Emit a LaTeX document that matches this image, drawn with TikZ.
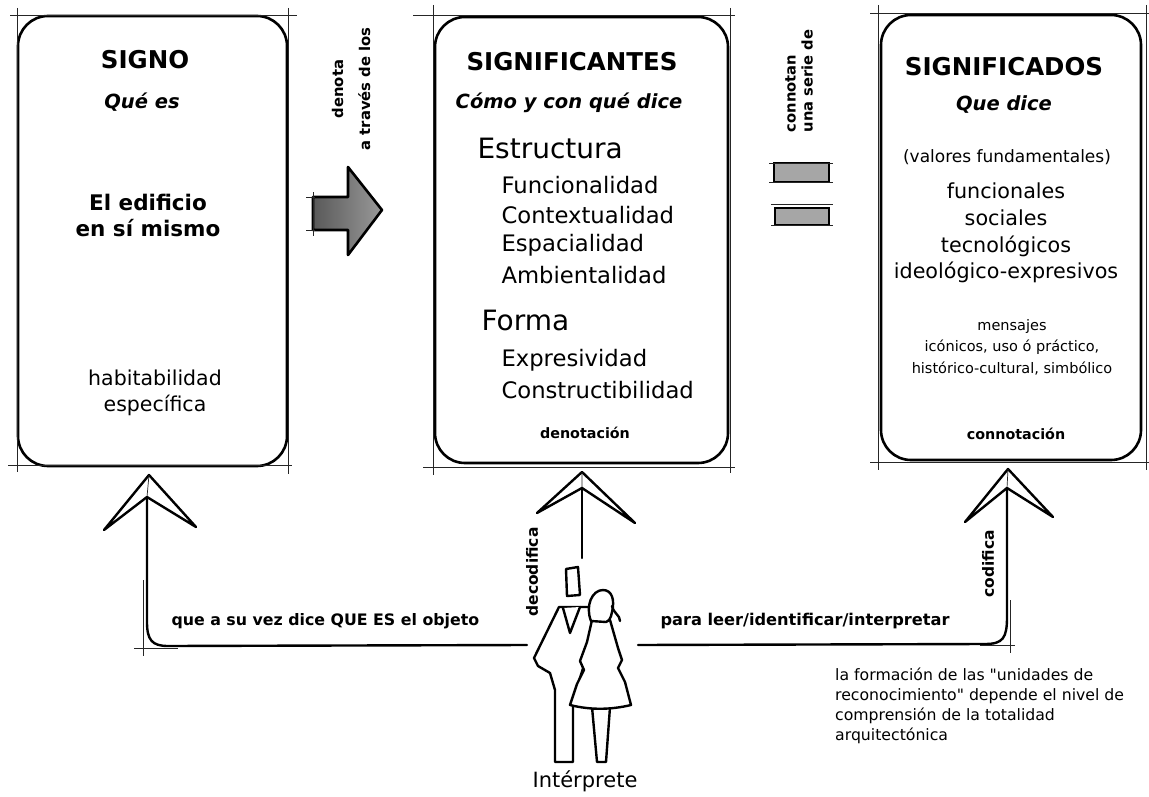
\documentclass[tikz,border=0pt]{standalone}
\usepackage{fontspec}
\setmainfont{DejaVu Sans}
% same face without the TeX ligature mapping, so that " stays a straight quote
\newfontfamily\notefont{DejaVu Sans}[Ligatures=ResetAll]
\begin{document}
\begin{tikzpicture}[x=1pt,y=-1pt,
  guide/.style={line width=0.7pt, black!85},
  frame/.style={draw, line width=2.6pt, rounded corners=30pt, inner sep=0pt},
  link/.style={line width=2.4pt, line cap=round, line join=round},
  chevron/.style={line width=2.4pt, line join=round, fill=white},
  fig/.style={line width=2.4pt, line join=round, line cap=round, fill=white},
  title/.style={font=\bfseries\fontsize{24.5}{28}\selectfont},
  subtitle/.style={font=\bfseries\itshape\fontsize{19.5}{23}\selectfont},
  item/.style={anchor=west, font=\fontsize{22.7}{26}\selectfont},
  group/.style={anchor=west, font=\fontsize{28}{32}\selectfont},
  valor/.style={font=\fontsize{20.7}{26.7}\selectfont, align=center},
  small/.style={font=\fontsize{14.5}{21.5}\selectfont, align=center},
  foot/.style={font=\bfseries\fontsize{14.3}{17}\selectfont},
  side/.style={font=\bfseries\fontsize{15}{17}\selectfont, rotate=90},
  bar/.style={line width=2.6pt, fill=black!35}
]
\useasboundingbox (0,0) rectangle (1149,797);

% ---------- three framed panels ----------
\node[frame, minimum width=269pt, minimum height=450pt] (signo) at (152.5,241) {};
\node[frame, minimum width=293pt, minimum height=446pt] (significantes) at (581.5,240) {};
\node[frame, minimum width=260pt, minimum height=445pt] (significados) at (1011,237.5) {};

% construction lines around the panels
\draw[guide] (10,15) -- (297,15) (8,465) -- (292,465) (17,8) -- (17,472) (288,8) -- (288,474);
\draw[guide] (413,15) -- (735,15) (423,467) -- (735,467) (433,5) -- (433,475) (730,8) -- (730,473);
\draw[guide] (870,13) -- (1149,13) (870,462) -- (1149,462) (878,5) -- (878,470) (1146,5) -- (1146,470);

% ---------- panel 1 ----------
\node[title] (t1) at (145,60) {SIGNO};
\node[subtitle] (s1) at (142,102) {Qué es};
\node[font=\bfseries\fontsize{21.5}{26}\selectfont, align=center] (edif) at (148,215) {El edificio\\en sí mismo};
\node[font=\fontsize{20.5}{26}\selectfont, align=center] (habit) at (155,393) {habitabilidad\\específica};

% ---------- panel 2 ----------
\node[title] (t2) at (572,62) {SIGNIFICANTES};
\node[subtitle] (s2) at (569,103) {Cómo y con qué dice};
\node[group] (estr) at (474,148) {Estructura};
\node[item] (i1) at (498,185) {Funcionalidad};
\node[item] (i2) at (498,215) {Contextualidad};
\node[item] (i3) at (498,245) {Espacialidad};
\node[item] (i4) at (498,275) {Ambientalidad};
\node[group] (forma) at (478,320) {Forma};
\node[item] (i5) at (498,360) {Expresividad};
\node[item] (i6) at (498,390) {Constructibilidad};
\node[foot] (den) at (585,433) {denotación};

% ---------- panel 3 ----------
\node[title] (t3) at (1004,67) {SIGNIFICADOS};
\node[subtitle] (s3) at (1004,105) {Que dice};
\node[font=\fontsize{17}{20}\selectfont] (valf) at (1007,157) {(valores fundamentales)};
\node[valor] (vals) at (1006,233) {funcionales\\sociales\\tecnológicos\\ideológico-expresivos};
\node[small] (mens) at (1012,347) {mensajes\\icónicos, uso ó práctico,\\histórico-cultural, simbólico};
\node[foot] (con) at (1016,434) {connotación};

% ---------- block arrow between panel 1 and 2 ----------
\draw[line width=2.6pt, line join=round, left color=black!65, right color=black!40]
  (313,197) -- (348,197) -- (348,167) -- (382,210) -- (348,255) -- (348,230) -- (313,230) -- cycle;
\draw[guide] (306,197) -- (315,197) (306,230) -- (315,230) (313,192) -- (313,236);
\node[side, align=center, font=\bfseries\fontsize{14.8}{27}\selectfont] (denota) at (351,89) {denota\\a través de los};

% ---------- equals sign between panel 2 and 3 ----------
\draw[bar] (774,163) rectangle (829,182);
\draw[bar] (775,208) rectangle (829,225);
\draw[guide] (769,163) -- (833,163) (769,182) -- (833,182) (771,204) -- (833,204)
  (771,225) -- (833,225);
\node[side, align=left, font=\bfseries\fontsize{14.7}{17}\selectfont] (connotan) at (799,81) {connotan\\una serie de};

% ---------- interpreter figures ----------
\coordinate (manL) at (527,645);
\coordinate (womanR) at (638,645);
\coordinate (headTop) at (582,558);
% man
\draw[fig] (559,607) -- (534,658) -- (538,666) -- (550,673) -- (555,690) -- (555,762)
  -- (573,762) -- (573,700) -- (592,640) -- (594,607) -- cycle;
\draw[fig] (563,608) -- (570,633) -- (580,607);
\draw[fig] (566,569) -- (578,567) -- (580,595) -- (567,596) -- cycle;
% woman
\draw[fig] (592,707) -- (597,762) -- (606,762) -- (610,707);
\draw[fig] (592,620) -- (610,620) -- (618,648) -- (622,660) -- (618,668) -- (625,682)
  -- (631,705) .. controls (610,710) and (590,710) .. (570,705) -- (577,684) -- (584,670)
  -- (580,661) -- (587,642) -- cycle;
\draw[fig] (591,621) .. controls (585,606) and (592,590) .. (603,590)
  .. controls (612,590) and (615,600) .. (612,612) .. controls (611,618) and (609,621) .. (606,622) -- cycle;
\draw[fig, fill=none] (612,606) .. controls (614,614) and (620,615) .. (620,621);
\node[font=\fontsize{21}{24}\selectfont] (interp) at (585,781) {Intérprete};

% ---------- connectors to the panels ----------
\coordinate (tipA) at (149,475);
\coordinate (tipB) at (582,472);
\coordinate (tipC) at (1008,469);
\coordinate (inA) at (147,497);
\coordinate (inB) at (582,488);
\coordinate (inC) at (1007,488);

\draw[chevron, shift={(tipA)}] (-45,55) -- (0,0) -- (47,52) -- (-2,22) -- cycle;
\draw[chevron, shift={(tipB)}] (-45,41) -- (0,0) -- (53,51) -- (0,16) -- cycle;
\draw[chevron, shift={(tipC)}] (-43,53) -- (0,0) -- (45,48) -- (-1,19) -- cycle;
\draw[guide] (tipA) -- (inA) (tipB) -- (inB) (tipC) -- (inC);

\draw[link] (manL) -- (168,646) .. controls (152,646) and (147,640) .. (147,622) -- (inA);
\draw[link] (headTop) -- (inB);
\draw[link] (womanR) -- (985,644) .. controls (1003,644) and (1007,638) .. (1007,617) -- (inC);

\draw[guide] (143,580) -- (143,656) (134,648) -- (178,648);
\draw[guide] (1010,600) -- (1010,653) (980,645) -- (1015,645);

% ---------- labels along the connectors ----------
\node[font=\bfseries\fontsize{15.8}{18}\selectfont, anchor=west] (lblA) at (168,621) {que a su vez dice QUE ES el objeto};
\node[font=\bfseries\fontsize{16.2}{18}\selectfont, anchor=west] (lblC) at (657,621) {para leer/identificar/interpretar};
\node[side, font=\bfseries\fontsize{15.5}{18}\selectfont] (deco) at (532,572) {decodifica};
\node[side, font=\bfseries\fontsize{15.5}{18}\selectfont] (codi) at (988,564) {codifica};

\node[anchor=north west, align=left, inner sep=0pt, font=\notefont\fontsize{15.7}{20}\selectfont] (nota) at (835,668)
  {la formación de las "unidades de\\reconocimiento" depende el nivel de\\comprensión de la totalidad\\arquitectónica};
\end{tikzpicture}
\end{document}
